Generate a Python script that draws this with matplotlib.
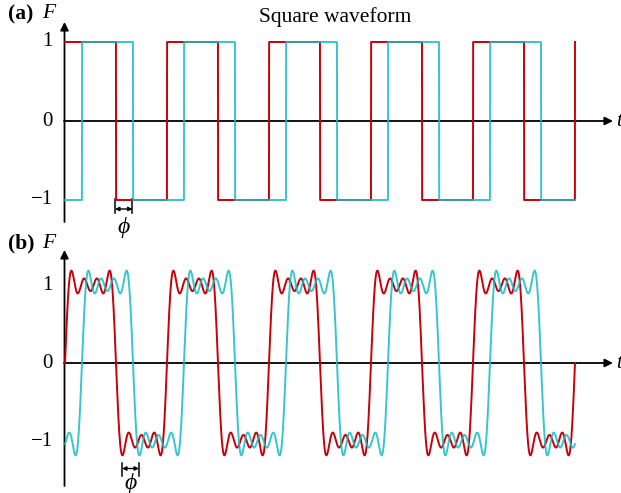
import numpy as np
import matplotlib
matplotlib.use("Agg")
import matplotlib.pyplot as plt

# ---- data ----
period = 2 * np.pi
n_periods = 5
phase = period / 6                 # phase shift phi
harmonics = [1, 3, 5, 7]           # odd harmonics in partial Fourier sum
ytick_vals = [1, 0, -1]
ytick_labels = ["1", "0", "\u22121"]
title = "Square waveform"

RED = "#c8000a"
CYAN = "#14bcc2"
SERIF = "Liberation Serif"

W, H = 621, 493
fig = plt.figure(figsize=(W / 100, H / 100), dpi=100)

t_end = n_periods * period
t = np.linspace(0, t_end, 6000)

def square(tt):
    return np.where(np.mod(tt, period) < period / 2, 1.0, -1.0)

def fourier(tt):
    s = np.zeros_like(tt)
    for k in harmonics:
        s += np.sin(k * tt) / k
    return 4 / np.pi * s

# pixel mapping: t=0 at px 65, half period = 51 px
x0_px, half_px = 65, 51.0
def px2t(px):
    return (px - x0_px) / half_px * np.pi

def make_axes(top_px, bot_px, zero_px, unit_px):
    ax = fig.add_axes([0, 1 - bot_px / H, 1, (bot_px - top_px) / H])
    ax.set_xlim(px2t(0), px2t(W))
    ax.set_ylim((zero_px - bot_px) / unit_px, (zero_px - top_px) / unit_px)
    ax.axis("off")
    return ax

def py2y(py, zero_px, unit_px):
    return (zero_px - py) / unit_px

def draw_axes(ax, zero_px, unit_px, ytop_px, ybot_px, label, lab_py):
    # x axis
    ax.annotate("", xy=(px2t(613), 0), xytext=(px2t(64), 0),
                arrowprops=dict(arrowstyle="-|>", color="black", lw=1.3,
                                mutation_scale=12, shrinkA=0, shrinkB=0),
                zorder=1)
    ax.text(px2t(616), 0, "t", fontsize=15, family=SERIF, style="italic",
            va="center", ha="left")
    # y axis
    ax.annotate("", xy=(px2t(64.5), py2y(ytop_px, zero_px, unit_px)),
                xytext=(px2t(64.5), py2y(ybot_px, zero_px, unit_px)),
                arrowprops=dict(arrowstyle="-|>", color="black", lw=1.3,
                                mutation_scale=12, shrinkA=0, shrinkB=0),
                zorder=1)
    for v, lab in zip(ytick_vals, ytick_labels):
        ax.text(px2t(53), v, lab, fontsize=15, family=SERIF,
                ha="right", va="center")
    ax.text(px2t(8), py2y(lab_py, zero_px, unit_px), label, fontsize=15.5,
            family=SERIF, weight="bold", ha="left", va="center")
    ax.text(px2t(42), py2y(lab_py, zero_px, unit_px), "F", fontsize=15.5,
            family=SERIF, style="italic", ha="left", va="center")

def phi_marker(ax, x1_px, x2_px, top_py, bot_py, mid_py, lab_py, zero_px, unit_px):
    t1, t2 = px2t(x1_px), px2t(x2_px)
    yt, yb = py2y(top_py, zero_px, unit_px), py2y(bot_py, zero_px, unit_px)
    ym = py2y(mid_py, zero_px, unit_px)
    for tt in (t1, t2):
        ax.plot([tt, tt], [yb, yt], color="black", lw=1.1)
    ax.annotate("", xy=(t2, ym), xytext=(t1, ym),
                arrowprops=dict(arrowstyle="<|-|>", color="black", lw=1.0,
                                mutation_scale=6, shrinkA=0, shrinkB=0))
    ax.text((t1 + t2) / 2, py2y(lab_py, zero_px, unit_px), "\u03d5",
            fontsize=17, family=SERIF, style="italic", ha="center", va="center")

# ---- panel (a) ----
za, ua = 121, 79.0
axa = make_axes(0, 240, za, ua)
draw_axes(axa, za, ua, 22, 222, "(a)", 14)
axa.plot(t, square(t), color=RED, lw=1.4, zorder=3)
axa.plot(t, square(t - phase), color=CYAN, lw=1.4, zorder=4, alpha=0.85)
axa.text(px2t(335), py2y(17, za, ua), title, fontsize=15.5, family=SERIF,
         ha="center", va="center")
phi_marker(axa, 115, 132.5, 199, 213, 209, 227, za, ua)

# ---- panel (b) ----
zb, ub = 363, 78.0
axb = make_axes(240, 493, zb, ub)
draw_axes(axb, zb, ub, 250, 486, "(b)", 243)
axb.plot(t, fourier(t), color=RED, lw=1.4, zorder=3)
axb.plot(t, fourier(t - phase), color=CYAN, lw=1.4, zorder=4, alpha=0.85)
phi_marker(axb, 122, 139, 463, 476, 468.5, 483, zb, ub)

fig.savefig("out.png", dpi=100)
